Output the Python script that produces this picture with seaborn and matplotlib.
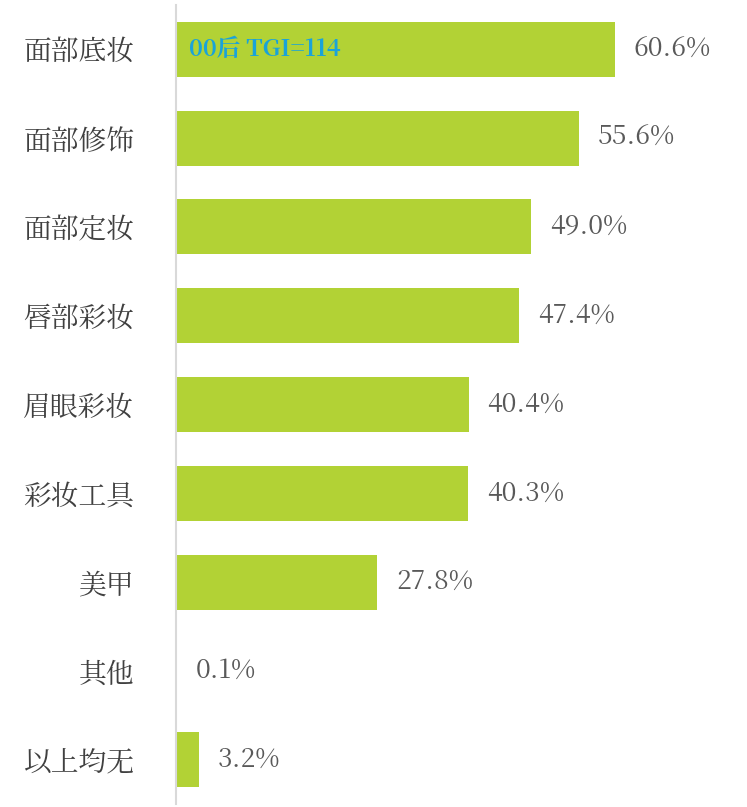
import matplotlib
matplotlib.use("Agg")
import matplotlib.pyplot as plt
from matplotlib import font_manager
import seaborn as sns
import pandas as pd

categories = ["面部底妆", "面部修饰", "面部定妆", "唇部彩妆", "眉眼彩妆", "彩妆工具", "美甲", "其他", "以上均无"]
values = [60.6, 55.6, 49.0, 47.4, 40.4, 40.3, 27.8, 0.1, 3.2]
note = "00后 TGI=114"

df = pd.DataFrame({"cat": categories, "val": values})

# pick whatever CJK font is actually registered
cjk = [f.name for f in font_manager.fontManager.ttflist if "CJK" in f.name]
cjk_name = "Noto Sans CJK SC" if "Noto Sans CJK SC" in cjk else (cjk[0] if cjk else "DejaVu Sans")
if not cjk:
    for f in font_manager.findSystemFonts():
        if "CJK" in f:
            font_manager.fontManager.addfont(f)
    cjk = [f.name for f in font_manager.fontManager.ttflist if "CJK" in f.name]
    cjk_name = cjk[0] if cjk else "DejaVu Sans"
plt.rcParams["font.family"] = "sans-serif"
plt.rcParams["font.sans-serif"] = [cjk_name, "DejaVu Sans"]

fig = plt.figure(figsize=(7.47, 8.07), dpi=100)
ax = fig.add_axes([176 / 747, 3 / 807, 1 - 176 / 747, 1 - 8 / 807])

sns.barplot(data=df, x="val", y="cat", color="#b2d235", saturation=1, width=0.62, ax=ax)
ax.set_xlim(0, 78.8)
ax.set_ylim(len(categories) - 0.5, -0.5)

for i, v in enumerate(values):
    ax.text(v + 2.6, i, f"{v:.1f}%", va="center", ha="left", fontsize=19, color="#595959")
ax.text(1.8, 0, note, va="center", ha="left", fontsize=17, color="#1aa3d9", fontweight="bold")

ax.set_xlabel("")
ax.set_ylabel("")
ax.set_xticks([])
ax.set_yticks(range(len(categories)))
ax.set_yticklabels(categories, fontsize=20, color="#404040", family=cjk_name)
ax.tick_params(axis="y", length=0, pad=30)
for s in ["top", "right", "bottom"]:
    ax.spines[s].set_visible(False)
ax.spines["left"].set_color("#d9d9d9")
ax.spines["left"].set_linewidth(1.5)

fig.savefig("out.png", dpi=100)
